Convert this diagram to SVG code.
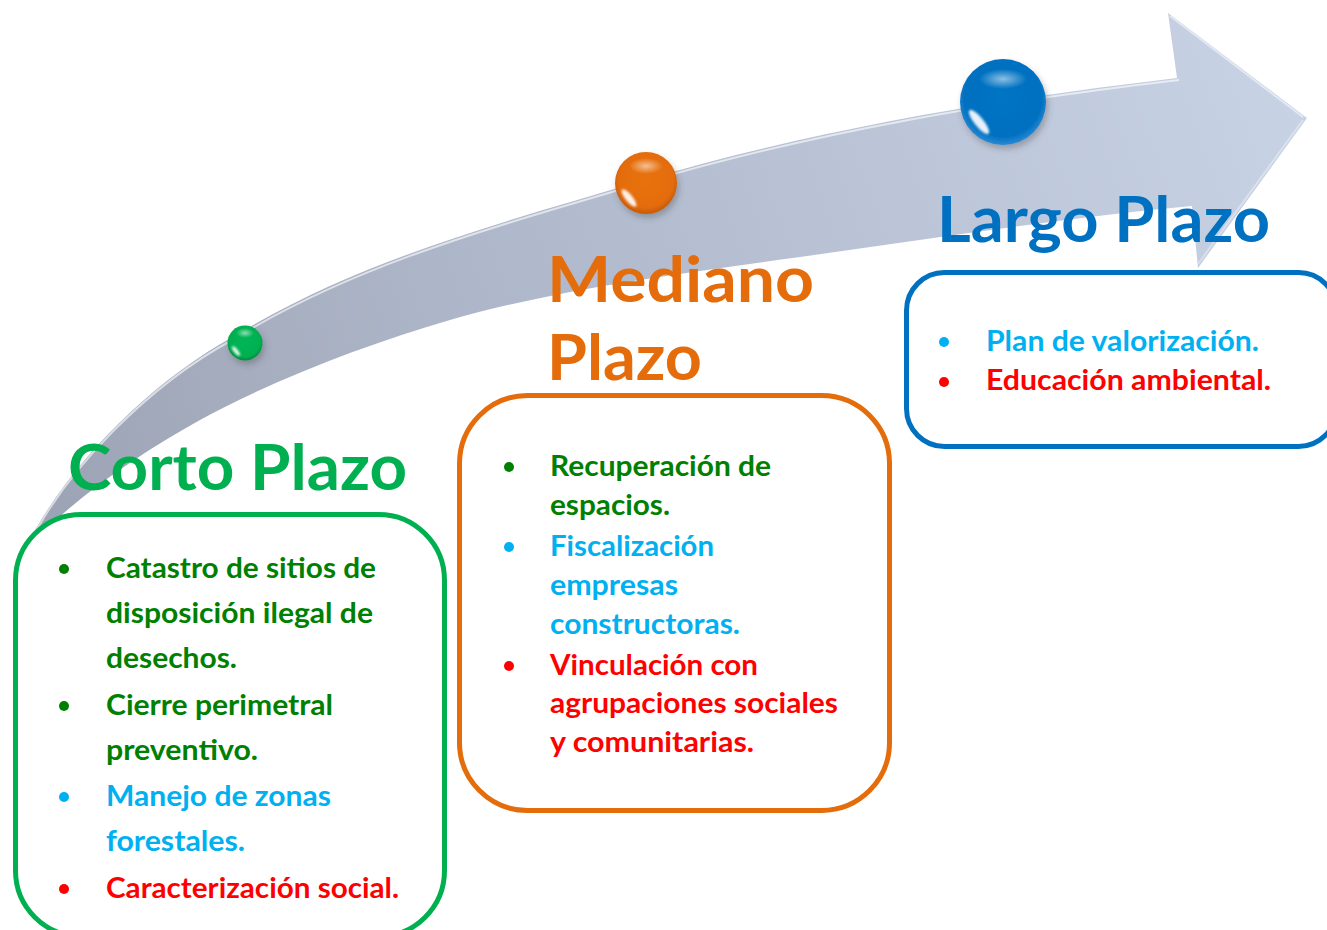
<svg xmlns="http://www.w3.org/2000/svg" width="1327" height="930" viewBox="0 0 1327 930">
  <defs>
    <style>
      .hd { font-family: "Lato", "Open Sans", sans-serif; font-weight: 700; font-size: 64px; }
      .tx { font-family: "Lato", "Open Sans", sans-serif; font-weight: 700; font-size: 29px; }
      .dg { fill: #008000; }
      .cy { fill: #00b0f0; }
      .rd { fill: #ff0000; }
      .box { fill: #ffffff; stroke-width: 5; }
      .hl { fill: url(#hlG); }
      .cres { fill: #ffffff; opacity: 0.9; filter: url(#soft); }
    </style>
    <linearGradient id="arrowG" gradientUnits="userSpaceOnUse" x1="30" y1="550" x2="1300" y2="100">
      <stop offset="0" stop-color="#9ba2b3"/>
      <stop offset="0.35" stop-color="#adb6c8"/>
      <stop offset="1" stop-color="#c8d2e5"/>
    </linearGradient>
    <radialGradient id="gG" cx="0.5" cy="0.45" r="0.55">
      <stop offset="0" stop-color="#00b556"/>
      <stop offset="0.8" stop-color="#00b050"/>
      <stop offset="1" stop-color="#008a3e"/>
    </radialGradient>
    <radialGradient id="oG" cx="0.5" cy="0.45" r="0.55">
      <stop offset="0" stop-color="#e8720f"/>
      <stop offset="0.8" stop-color="#e46c0a"/>
      <stop offset="1" stop-color="#c55a04"/>
    </radialGradient>
    <radialGradient id="bG" cx="0.5" cy="0.45" r="0.55">
      <stop offset="0" stop-color="#0474c4"/>
      <stop offset="0.82" stop-color="#0070c0"/>
      <stop offset="1" stop-color="#2a8ad4"/>
    </radialGradient>
    <radialGradient id="hlG" cx="0.5" cy="0.5" r="0.5">
      <stop offset="0" stop-color="#ffffff" stop-opacity="0.55"/>
      <stop offset="1" stop-color="#ffffff" stop-opacity="0"/>
    </radialGradient>
    <filter id="shadow" x="-30%" y="-30%" width="160%" height="170%">
      <feDropShadow dx="2" dy="4" stdDeviation="3" flood-color="#404040" flood-opacity="0.35"/>
    </filter>
    <filter id="soft" x="-50%" y="-50%" width="200%" height="200%">
      <feGaussianBlur stdDeviation="1"/>
    </filter>
  </defs>

  <g id="arrow">
    <path d="M 24,552 C 62,470 150,382 233,337 C 358,260 504,222 645,180 C 818,129 998,99 1177,78 L 1168,13 L 1307,118 L 1198,268 L 1192,206 C 1062,218 930,239 800,257 C 684,273 562,288 450,320 C 368,344 275,379 200,420 C 139,454 70,500 24,552 Z" fill="url(#arrowG)"/>
    <path d="M 26,551 C 64,469 152,383 234,339 C 359,262 505,224 646,182 C 819,131 999,101 1179,80" fill="none" stroke="#ffffff" stroke-opacity="0.6" stroke-width="2"/>
    <path d="M 1170,16 L 1303,117" fill="none" stroke="#ffffff" stroke-opacity="0.5" stroke-width="2"/>
    <path d="M 1303,120 L 1198,264" fill="none" stroke="#e6ecf5" stroke-opacity="0.6" stroke-width="2"/>
  </g>

  <g id="spheres">
    <g id="sphere-green">
      <circle cx="245" cy="343" r="17.5" fill="url(#gG)" filter="url(#shadow)"/>
      <ellipse class="hl" cx="245" cy="333" rx="9" ry="5"/>
      <ellipse class="cres" cx="236" cy="351" rx="6" ry="2" transform="rotate(51 236 351)"/>
    </g>
    <g id="sphere-orange">
      <circle cx="646" cy="183" r="31" fill="url(#oG)" filter="url(#shadow)"/>
      <ellipse class="hl" cx="646" cy="166" rx="17" ry="8"/>
      <ellipse class="cres" cx="629" cy="198" rx="11" ry="3.5" transform="rotate(51 629 198)"/>
    </g>
    <g id="sphere-blue">
      <circle cx="1003" cy="102" r="43" fill="url(#bG)" filter="url(#shadow)"/>
      <ellipse class="hl" cx="1003" cy="79" rx="24" ry="10"/>
      <ellipse class="cres" cx="979" cy="122" rx="15" ry="4.5" transform="rotate(51 979 122)"/>
    </g>
  </g>

  <g id="node-corto">
    <rect class="box" x="15.5" y="514.5" width="429" height="422" rx="66" stroke="#00b050"/>
    <text class="hd" x="68" y="490" fill="#00b050" textLength="339" lengthAdjust="spacingAndGlyphs">Corto Plazo</text>
    <circle class="dg" cx="64" cy="569" r="5"/>
    <circle class="dg" cx="64" cy="706" r="5"/>
    <circle class="cy" cx="64" cy="797" r="5"/>
    <circle class="rd" cx="64" cy="889" r="5"/>
    <text class="tx dg" x="106" y="578" textLength="270" lengthAdjust="spacingAndGlyphs">Catastro de sitios de</text>
    <text class="tx dg" x="106" y="623" textLength="267" lengthAdjust="spacingAndGlyphs">disposición ilegal de</text>
    <text class="tx dg" x="106" y="668" textLength="131" lengthAdjust="spacingAndGlyphs">desechos.</text>
    <text class="tx dg" x="106" y="715" textLength="227" lengthAdjust="spacingAndGlyphs">Cierre perimetral</text>
    <text class="tx dg" x="106" y="760" textLength="152" lengthAdjust="spacingAndGlyphs">preventivo.</text>
    <text class="tx cy" x="106" y="806" textLength="225" lengthAdjust="spacingAndGlyphs">Manejo de zonas</text>
    <text class="tx cy" x="106" y="851" textLength="139" lengthAdjust="spacingAndGlyphs">forestales.</text>
    <text class="tx rd" x="106" y="898" textLength="293" lengthAdjust="spacingAndGlyphs">Caracterización social.</text>
  </g>

  <g id="node-mediano">
    <rect class="box" x="459.5" y="395.5" width="430" height="415" rx="68" stroke="#e46c0a"/>
    <text class="hd" x="547" y="302" fill="#e46c0a" textLength="267" lengthAdjust="spacingAndGlyphs">Mediano</text>
    <text class="hd" x="547" y="380" fill="#e46c0a" textLength="155" lengthAdjust="spacingAndGlyphs">Plazo</text>
    <circle class="dg" cx="509" cy="467" r="5"/>
    <circle class="cy" cx="509" cy="547" r="5"/>
    <circle class="rd" cx="509" cy="666" r="5"/>
    <text class="tx dg" x="550" y="476" textLength="221" lengthAdjust="spacingAndGlyphs">Recuperación de</text>
    <text class="tx dg" x="550" y="515" textLength="120" lengthAdjust="spacingAndGlyphs">espacios.</text>
    <text class="tx cy" x="550" y="556" textLength="164" lengthAdjust="spacingAndGlyphs">Fiscalización</text>
    <text class="tx cy" x="550" y="595" textLength="128" lengthAdjust="spacingAndGlyphs">empresas</text>
    <text class="tx cy" x="550" y="634" textLength="190" lengthAdjust="spacingAndGlyphs">constructoras.</text>
    <text class="tx rd" x="550" y="675" textLength="208" lengthAdjust="spacingAndGlyphs">Vinculación con</text>
    <text class="tx rd" x="550" y="713" textLength="288" lengthAdjust="spacingAndGlyphs">agrupaciones sociales</text>
    <text class="tx rd" x="550" y="752" textLength="204" lengthAdjust="spacingAndGlyphs">y comunitarias.</text>
  </g>

  <g id="node-largo">
    <rect class="box" x="906.5" y="272.5" width="430" height="174" rx="38" stroke="#0070c0"/>
    <text class="hd" x="937" y="242" fill="#0070c0" textLength="333" lengthAdjust="spacingAndGlyphs">Largo Plazo</text>
    <circle class="cy" cx="944" cy="342" r="5"/>
    <circle class="rd" cx="944" cy="382" r="5"/>
    <text class="tx cy" x="986" y="351" textLength="273" lengthAdjust="spacingAndGlyphs">Plan de valorización.</text>
    <text class="tx rd" x="986" y="390" textLength="285" lengthAdjust="spacingAndGlyphs">Educación ambiental.</text>
  </g>
</svg>
